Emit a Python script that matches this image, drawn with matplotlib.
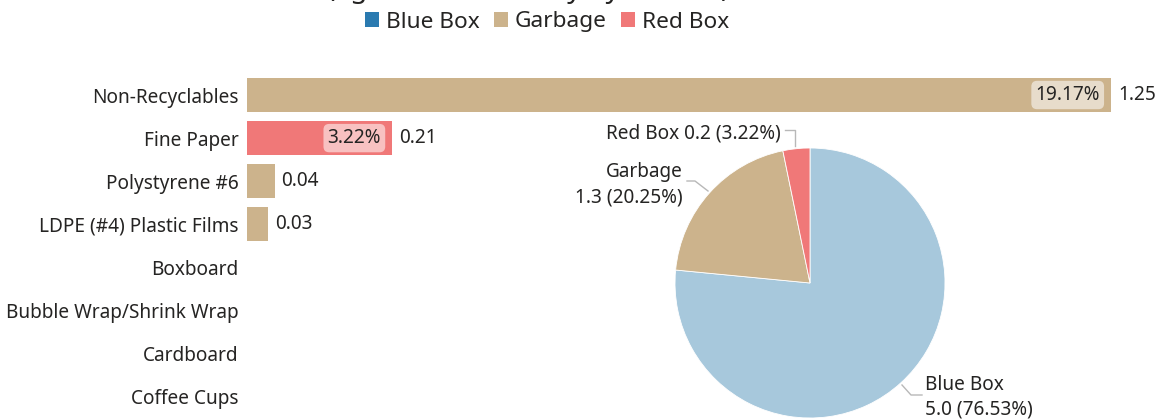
import matplotlib
matplotlib.use("Agg")
import matplotlib.pyplot as plt
from matplotlib.patches import Patch
import numpy as np

# ---------------- data ----------------
categories = ["Non-Recyclables", "Fine Paper", "Polystyrene #6", "LDPE (#4) Plastic Films",
              "Boxboard", "Bubble Wrap/Shrink Wrap", "Cardboard", "Coffee Cups"]
cat_values = [1.25, 0.21, 0.04, 0.03, 0, 0, 0, 0]
cat_stream = ["Garbage", "Red Box", "Garbage", "Garbage", "Garbage", "Blue Box", "Blue Box", "Garbage"]

streams = ["Blue Box", "Garbage", "Red Box"]
stream_values = [4.99, 1.32, 0.21]

title_text = "(kg Collected Today by Stream)"

# ---------------- style ----------------
FONT = "Noto Sans"
plt.rcParams["font.family"] = [FONT, "DejaVu Sans"]
TXT = "#252423"
FS = 13.7
colors = {"Blue Box": "#2A7AB0", "Garbage": "#CCB38C", "Red Box": "#F07878"}
pie_colors = {"Blue Box": "#A7C8DC", "Garbage": "#CCB38C", "Red Box": "#F07878"}

W, H = 1160, 419
fig = plt.figure(figsize=(W / 100, H / 100), dpi=100)

def fx(px):
    return px / W

def fy(py):
    return 1 - py / H

total = sum(stream_values)

# ---------------- bar chart ----------------
n = len(categories)
band = 43.1
top_px = 95 - band / 2
bot_px = top_px + band * n
axb = fig.add_axes([fx(247), fy(bot_px), fx(1111) - fx(247), fy(top_px) - fy(bot_px)])
y = np.arange(n)
bar_cols = [colors[s] for s in cat_stream]
axb.barh(y, cat_values, height=0.79, color=bar_cols, edgecolor="none")
axb.set_xlim(0, max(cat_values))
axb.set_ylim(n - 0.5, -0.5)
axb.set_yticks(y)
axb.set_yticklabels(categories, fontsize=FS, color=TXT)
axb.tick_params(axis="y", length=0, pad=6)
axb.set_xticks([])
for s in axb.spines.values():
    s.set_visible(False)
axb.patch.set_alpha(0)

xpx_per_unit = (1111 - 247) / max(cat_values)
for i, v in enumerate(cat_values):
    if v <= 0:
        continue
    axb.annotate(f"{v:.2f}", xy=(v, i), xytext=(5, 0), textcoords="offset points",
                 va="center", ha="left", fontsize=FS, color=TXT, annotation_clip=False)
    if v * xpx_per_unit > 90:
        pct = v / total * 100
        axb.annotate(f"{pct:.2f}%", xy=(v, i), xytext=(-8, 0), textcoords="offset points",
                     va="center", ha="right", fontsize=FS, color=TXT,
                     bbox=dict(boxstyle="round,pad=0.22,rounding_size=0.3",
                               fc="white", ec="none", alpha=0.55))

# ---------------- pie chart ----------------
cx, cy, r = 810, 283, 135
axp = fig.add_axes([fx(cx - r), fy(cy + r), fx(2 * r), fy(cy - r) - fy(cy + r)])
axp.pie(stream_values, colors=[pie_colors[s] for s in streams], startangle=90,
        counterclock=False, radius=1,
        wedgeprops=dict(linewidth=0.6, edgecolor="white"))
axp.set_xlim(-1, 1)
axp.set_ylim(-1, 1)
axp.set_aspect("equal")
axp.axis("off")

line_col = "#B8B8B8"
labels_info = {
    "Red Box": dict(text=lambda v, p: f"Red Box {v:.1f} ({p:.2f}%)", pos=(781, 134), ha="right",
                    line=[(785, 130), (795, 130), (795, 146)], ls=1.4),
    "Garbage": dict(text=lambda v, p: f"Garbage\n{v:.1f} ({p:.2f}%)", pos=(683, 185), ha="right",
                    line=[(687, 181), (695, 181), (708, 191)], ls=1.4),
    "Blue Box": dict(text=lambda v, p: f"Blue Box\n{v:.1f} ({p:.2f}%)", pos=(925, 397), ha="left",
                     line=[(902, 385), (911, 395), (922, 395)], ls=1.27),
}
for s, v in zip(streams, stream_values):
    info = labels_info[s]
    p = v / total * 100
    tx, ty = info["pos"]
    fig.text(fx(tx), fy(ty), info["text"](v, p), ha=info["ha"], va="center",
             fontsize=FS, color=TXT, linespacing=info["ls"], multialignment=info["ha"])
    xs = [fx(a) for a, b in info["line"]]
    ys = [fy(b) for a, b in info["line"]]
    fig.add_artist(plt.Line2D(xs, ys, color=line_col, lw=1, transform=fig.transFigure))

# ---------------- legend / title ----------------
handles = [Patch(facecolor=colors[s], edgecolor="none", label=s) for s in streams]
fig.legend(handles=handles, loc="center", bbox_to_anchor=(fx(547), fy(22)), ncol=3,
           frameon=False, fontsize=16.3, handlelength=0.65, handleheight=0.65,
           handletextpad=0.3, columnspacing=0.6, labelcolor=TXT)
fig.text(fx(528), fy(-3), title_text, ha="center", va="baseline", fontsize=20, color=TXT)

fig.savefig("out.png", dpi=100)
